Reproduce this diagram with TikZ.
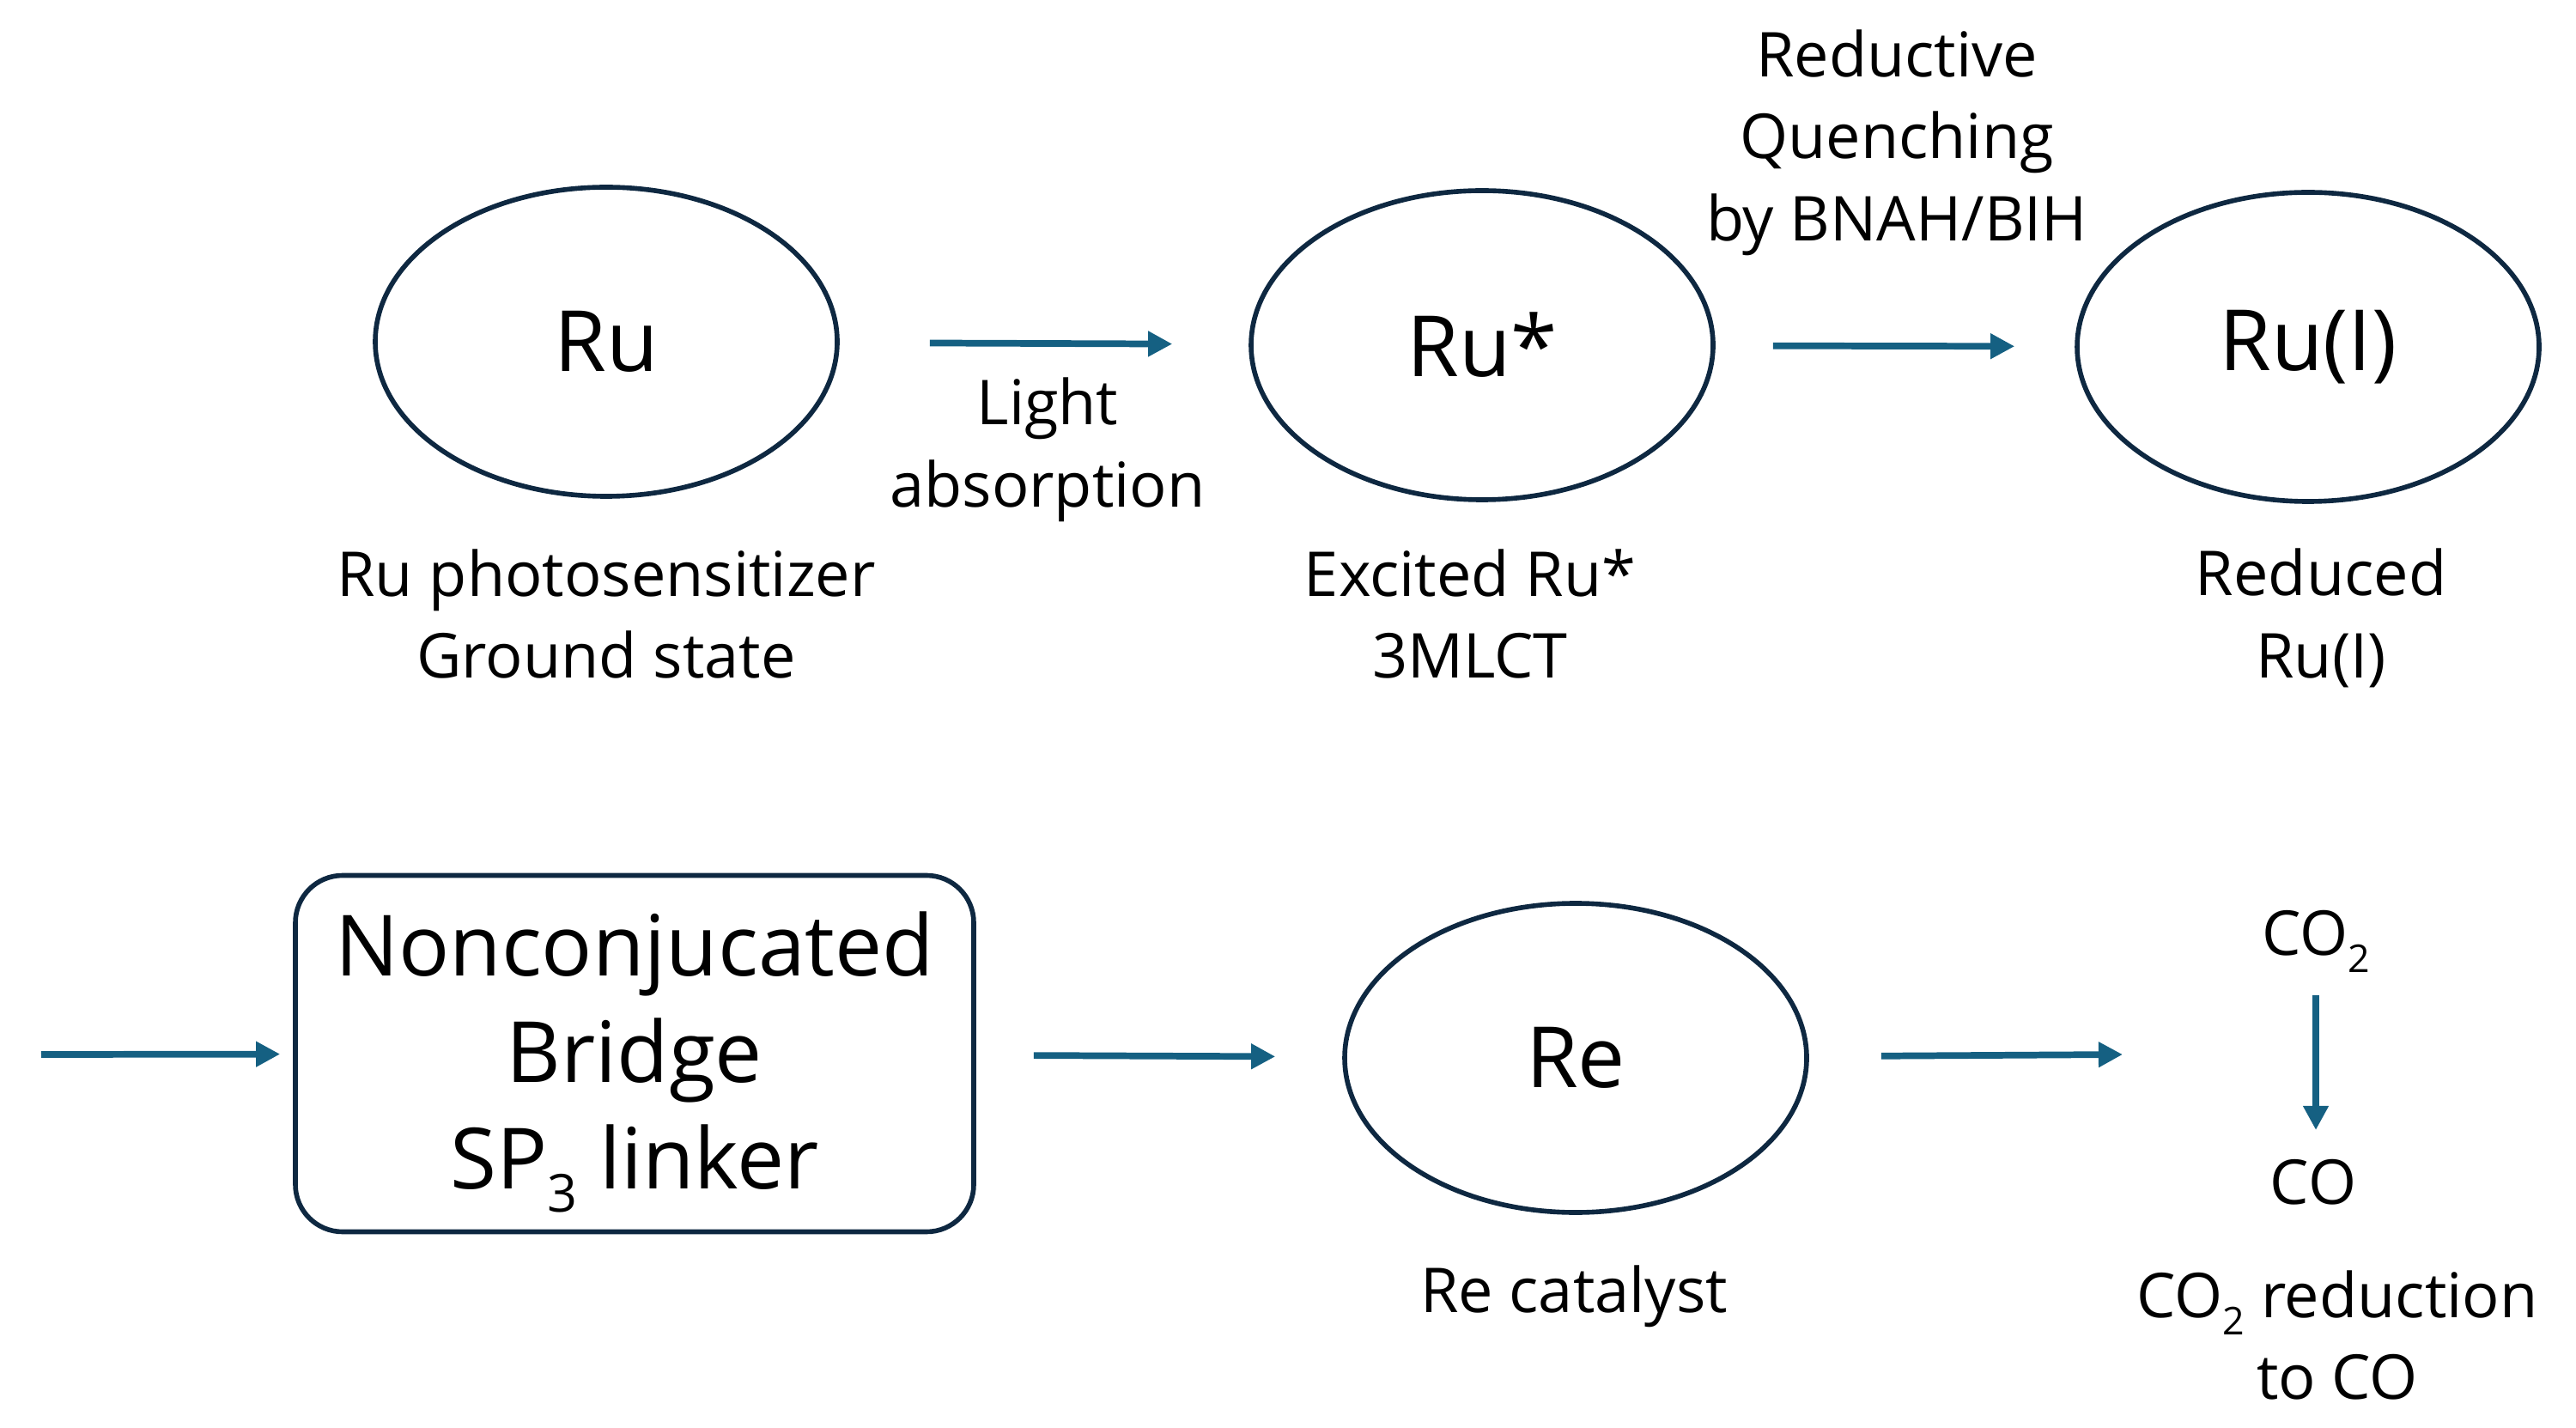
\documentclass[tikz,border=0pt]{standalone}
\usepackage{fontspec}
\usepackage{graphicx}
\setmainfont{Open Sans}
\usetikzlibrary{shapes.geometric,arrows.meta}
\definecolor{rim}{HTML}{0E2841}
\definecolor{flowblue}{HTML}{156082}
\newcommand{\lowsub}[1]{\raisebox{-.28em}{\scalebox{.62}{#1}}}

\begin{document}
\begin{tikzpicture}[every node/.style={font=\fontsize{20.5}{27.2}\selectfont},
  state/.style={ellipse,draw=rim,line width=1.6pt,inner sep=0pt,
    minimum width=5.38cm,minimum height=3.6cm,font=\fontsize{28}{34}\selectfont},
  bridgebox/.style={draw=rim,line width=1.6pt,rounded corners=.55cm,
    minimum width=7.9cm,minimum height=4.15cm},
  bridgetext/.style={align=center,font=\fontsize{28}{35.2}\selectfont},
  caption/.style={align=center},
  flow/.style={line width=2.2pt,draw=flowblue,
    -{Triangle[length=8pt,width=8pt,fill=flowblue]}}]

  \useasboundingbox (0,0) rectangle (30,16.62);

  % States
  \node[state] (ru) at (7.06,12.64) {Ru};
  \node[state] (rustar) at (17.26,12.6) {Ru*};
  \node[state] (rui) at (26.88,12.58) {Ru(I)};
  \node[state] (re) at (18.35,4.3) {Re};
  \node[bridgebox,label={[bridgetext,yshift=-1mm]center:{Nonconjucated\\Bridge\\SP\lowsub{3} linker}}]
    (bridge) at (7.39,4.35) {};

  % Captions
  \node[caption] (light) at (12.2,11.38) {Light\\absorption};
  \node[caption] (quench) at (22.09,14.96) {Reductive\\Quenching\\by BNAH/BIH};
  \node[caption] (ground) at (7.06,9.47) {Ru photosensitizer\\Ground state};
  \node[caption] (excited) at (17.12,9.47) {Excited Ru*\\3MLCT};
  \node[caption] (reduced) at (27.03,9.42) {Reduced\\Ru(I)};
  \node[caption] (recat) at (18.33,1.52) {Re catalyst};
  \node (co2) at (26.97,5.66) {CO\lowsub{2}};
  \node (co) at (26.94,2.85) {CO};
  \node[caption] (co2red) at (27.22,1.07) {CO\lowsub{2} reduction\\to CO};

  \coordinate (in) at (.48,4.34);
  \coordinate (out) at (24.72,4.34);

  % Arrows
  \draw[flow,shorten <=1.05cm,shorten >=.89cm] (ru) -- (rustar);
  \draw[flow,shorten <=.67cm,shorten >=.7cm] (rustar) -- (rui);
  \draw[flow,shorten >=.15cm] (in) -- (bridge);
  \draw[flow,shorten <=.67cm,shorten >=.78cm] (bridge) -- (re);
  \draw[flow,shorten <=.84cm] (re) -- (out);
  \draw[flow,shorten <=.63cm,shorten >=.61cm] (co2.center) -- (co2.center |- co.center);
\end{tikzpicture}
\end{document}
